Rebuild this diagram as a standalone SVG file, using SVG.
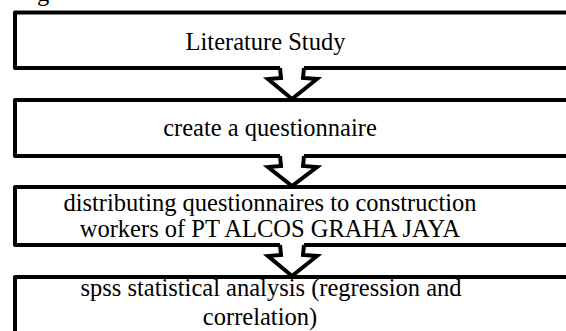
<svg xmlns="http://www.w3.org/2000/svg" width="566" height="331" viewBox="0 0 566 331">
<style>
.box{fill:none;stroke:#000;stroke-width:4;stroke-linejoin:round}
.arr{fill:none;stroke:#000;stroke-width:4;stroke-linejoin:miter;stroke-miterlimit:10}
.t{font-size:24.5px;fill:#000;text-anchor:middle}
</style>
<rect width="566" height="331" fill="#fff"/>
<g font-family="'Liberation Serif', 'Times New Roman', Times, serif">
<text class="t" x="43" y="1">g</text>
<g id="node1">
<path class="box" d="M280,68 L15,68 L15,12.5 L575,12.5 L575,68 L304,68"/>
<text class="t" x="265.5" y="49.5">Literature Study</text>
</g>
<g id="node2">
<path class="box" d="M280,156 L15,156 L15,100 L575,100 L575,156 L304,156"/>
<text class="t" x="270" y="136">create a questionnaire</text>
</g>
<g id="node3">
<path class="box" d="M280,245 L15,245 L15,187 L575,187 L575,245 L304,245"/>
<text class="t" x="270" y="210.5">distributing questionnaires to construction</text>
<text class="t" x="270" y="237">workers of PT ALCOS GRAHA JAYA</text>
</g>
<g id="node4">
<path class="box" d="M15,340 L15,277 L575,277"/>
<text class="t" x="271" y="296">spss statistical analysis (regression and</text>
<text class="t" x="260" y="325">correlation)</text>
</g>
</g>
<g id="connectors">
<path class="arr" d="M280,68 L281,78 L268,79 L292,99 L317,79 L303,78 L304,68"/>
<path class="arr" d="M280,156 L281,166 L268,167 L292,186 L317,167 L303,166 L304,156"/>
<path class="arr" d="M280,245 L281,255 L268,256 L292,276 L317,256 L303,255 L304,245"/>
</g>
</svg>
